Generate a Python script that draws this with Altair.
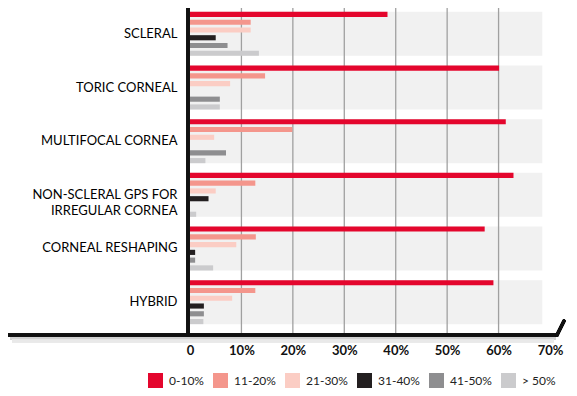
import altair as alt
import pandas as pd

categories = ["SCLERAL", "TORIC CORNEAL", "MULTIFOCAL CORNEA",
              "NON-SCLERAL GPS FOR IRREGULAR CORNEA", "CORNEAL RESHAPING", "HYBRID"]
series = ["0-10%", "11-20%", "21-30%", "31-40%", "41-50%", "> 50%"]
colors = ["#e4062d", "#f4968c", "#fbcdc4", "#231f20", "#8e8e90", "#cbcbcd"]

v_0_10 = [38.4, 60.1, 61.4, 62.9, 57.3, 59.0]
v_11_20 = [11.8, 14.6, 19.9, 12.7, 12.8, 12.7]
v_21_30 = [11.8, 7.8, 4.7, 5.0, 9.0, 8.2]
v_31_40 = [5.0, 0.0, 0.0, 3.6, 1.0, 2.7]
v_41_50 = [7.3, 5.8, 7.0, 0.0, 1.0, 2.7]
v_50p = [13.4, 5.8, 3.0, 1.2, 4.5, 2.6]

ticks = [0, 10, 20, 30, 40, 50, 60, 70]
grid_ticks = [10, 20, 30, 40, 50, 60]

all_vals = [v_0_10, v_11_20, v_21_30, v_31_40, v_41_50, v_50p]
rows = []
for s, vals in zip(series, all_vals):
    for c, v in zip(categories, vals):
        rows.append({"category": c, "series": s, "value": v})
df = pd.DataFrame(rows)
cat_df = pd.DataFrame({"category": categories})
grid_df = pd.DataFrame({"t": grid_ticks})

FONT = "Lato"
W, H = 360, 320
BASE = H + 7  # y of the bottom axis line

yscale = alt.Scale(domain=categories, paddingInner=0.18, paddingOuter=0.072)
xscale = alt.Scale(domain=[0, 70], nice=False, zero=True)

yaxis = alt.Axis(
    title=None, domain=False, ticks=False, labelPadding=13, labelFontSize=13,
    labelFont=FONT, labelColor="#000000", labelLimit=300, labelLineHeight=16,
    labelExpr="datum.label == 'NON-SCLERAL GPS FOR IRREGULAR CORNEA' ? ['NON-SCLERAL GPS FOR', 'IRREGULAR CORNEA'] : datum.label",
)
xaxis = alt.Axis(title=None, values=ticks, domain=False, ticks=False, grid=False,
                 labelFont=FONT, labelFontSize=13, labelFontWeight="bold",
                 labelColor="#111111", labelPadding=16, labelFlush=False,
                 labelExpr="datum.value == 0 ? '0' : datum.value + '%'")

bands = alt.Chart(cat_df).transform_calculate(lo="0", hi="68.5").mark_bar(color="#f1f1f1").encode(
    y=alt.Y("category:N", scale=yscale, axis=yaxis, sort=categories),
    x=alt.X("lo:Q", scale=xscale, axis=xaxis),
    x2="hi:Q",
)

grid = alt.Chart(grid_df).mark_rule(color="#a0a0a0", strokeWidth=1.3).encode(
    x=alt.X("t:Q", scale=xscale, axis=xaxis),
    y=alt.value(0), y2=alt.value(BASE),
)

bars = alt.Chart(df).mark_bar().encode(
    y=alt.Y("category:N", scale=yscale, axis=yaxis, sort=categories),
    yOffset=alt.YOffset("series:N", sort=series,
                        scale=alt.Scale(paddingInner=0.34, paddingOuter=0.0)),
    x=alt.X("value:Q", scale=xscale, axis=xaxis),
    color=alt.Color("series:N", sort=series,
                    scale=alt.Scale(domain=series, range=colors),
                    legend=alt.Legend(title=None, orient="none", direction="horizontal",
                                      legendX=-42, legendY=365, symbolType="square",
                                      symbolSize=225, symbolStrokeWidth=0, symbolOpacity=1,
                                      labelFont=FONT, labelFontSize=12, labelColor="#222222",
                                      labelOffset=6, columnPadding=9, padding=0)),
)

vline = alt.Chart(cat_df).mark_rule(color="#111111", strokeWidth=3).encode(
    x=alt.value(-2), y=alt.value(0), y2=alt.value(BASE),
)

shadow1 = alt.Chart(cat_df).mark_rule(color="#d0d0d0", strokeWidth=3, opacity=0.6).encode(
    x=alt.value(-180), x2=alt.value(366), y=alt.value(BASE + 3), y2=alt.value(BASE + 3),
)
shadow2 = alt.Chart(cat_df).mark_rule(color="#e8e8e8", strokeWidth=3, opacity=0.7).encode(
    x=alt.value(-178), x2=alt.value(364), y=alt.value(BASE + 6), y2=alt.value(BASE + 6),
)
hline = alt.Chart(cat_df).mark_rule(color="#111111", strokeWidth=3.2, strokeCap="round").encode(
    x=alt.value(-185), x2=alt.value(367), y=alt.value(BASE), y2=alt.value(BASE),
)
slant = alt.Chart(cat_df).mark_rule(color="#111111", strokeWidth=3.2, strokeCap="round").encode(
    x=alt.value(367), x2=alt.value(374), y=alt.value(BASE), y2=alt.value(BASE - 14),
)

chart = alt.layer(bands, grid, bars, vline, shadow1, shadow2, hline, slant).properties(
    width=W, height=H,
    autosize=alt.AutoSizeParams(type="none"),
    padding={"left": 182, "top": 0, "right": 19, "bottom": 60},
    background="white",
).configure_view(stroke=None)

chart.save("out.html", embed_options={"renderer": "svg", "actions": False})
